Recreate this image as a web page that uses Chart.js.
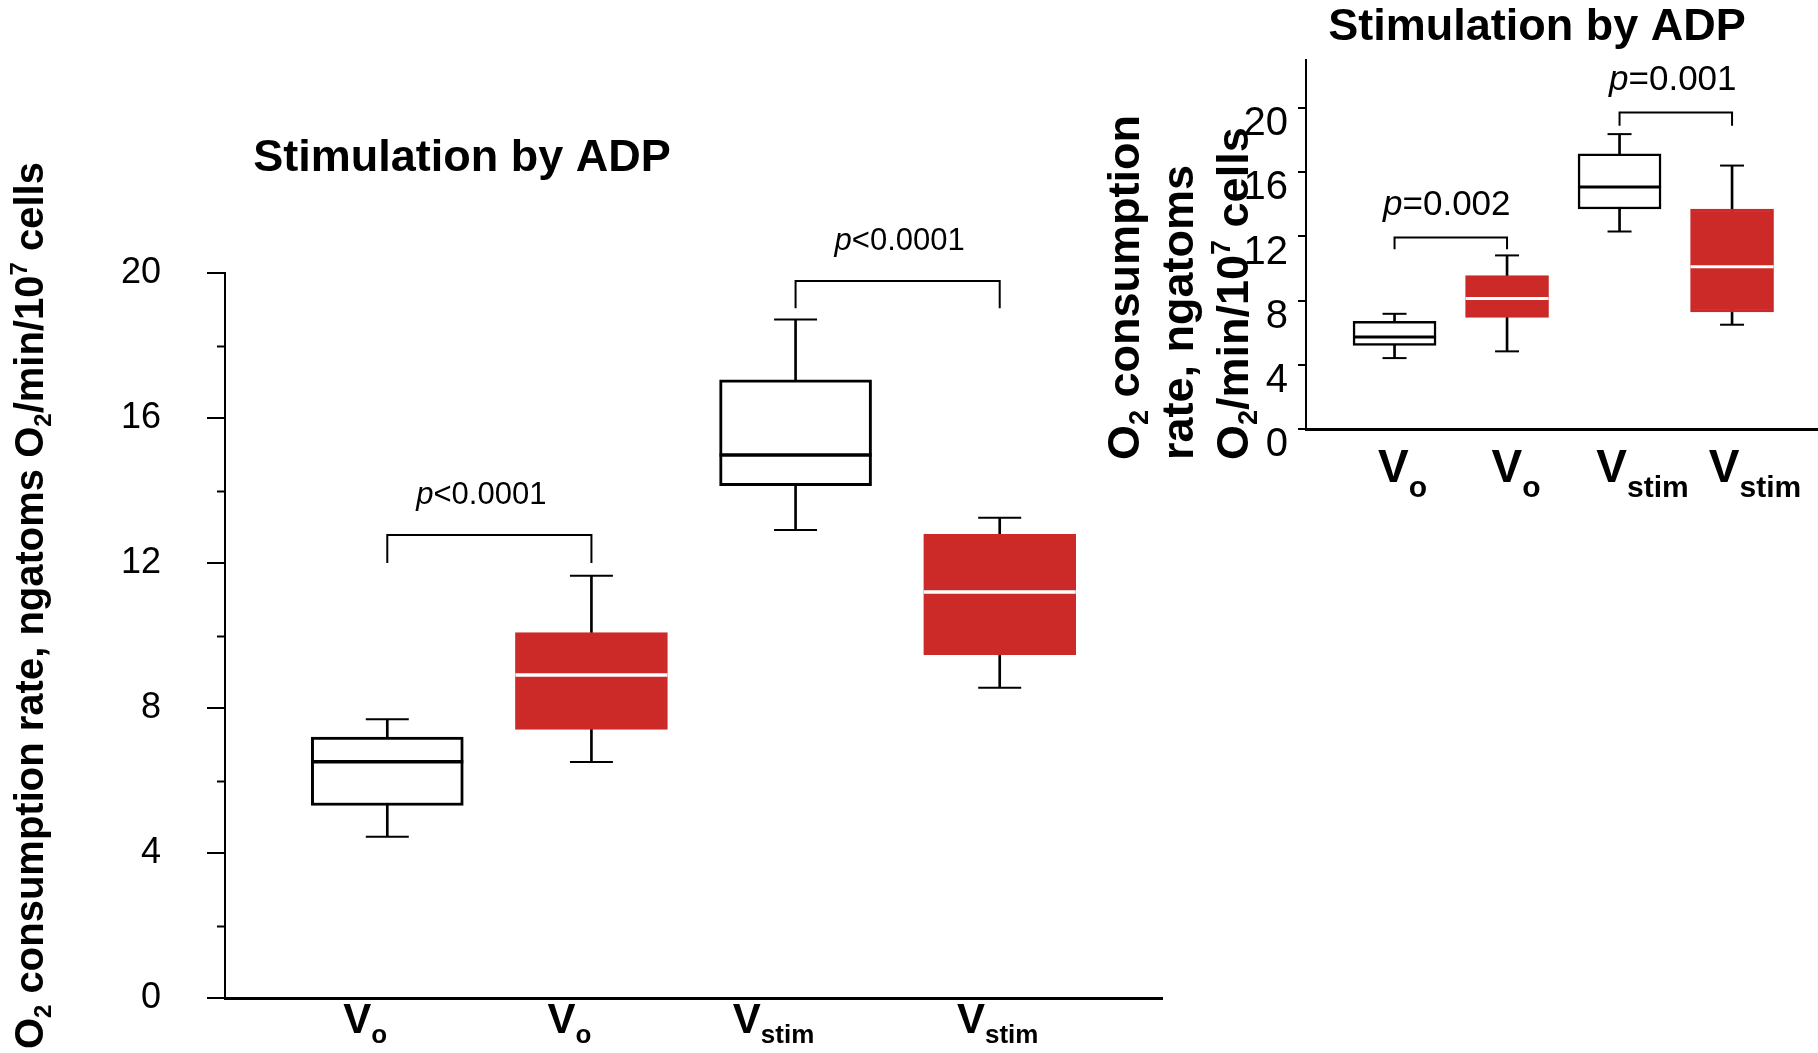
<!DOCTYPE html>
<html>
<head>
<meta charset="utf-8">
<title>Stimulation by ADP</title>
<script src="https://cdn.jsdelivr.net/npm/chart.js@4.4.0/dist/chart.umd.min.js"></script>
<style>
    html, body { margin: 0; padding: 0; background: #fff; }
    #wrap { position: relative; width: 1818px; height: 1053px; overflow: hidden; }
    #mainChart { position: absolute; left: 0; top: 0; }
    #insetChart { position: absolute; left: 1100px; top: 0; }
</style>
</head>
<body>
<div id="wrap">
    <canvas id="mainChart" width="1200" height="1053"></canvas>
    <canvas id="insetChart" width="718" height="520"></canvas>
</div>
<script>
// categories: V + subscript
const groupBase = ['V', 'V', 'V', 'V'];
const groupSub = ['o', 'o', 'stim', 'stim'];

// large panel, ngatoms O2/min/10^7 cells
const mainMin = [4.45, 6.51, 12.91, 8.56];
const mainQ1 = [5.31, 7.41, 14.13, 9.47];
const mainMedian = [6.52, 8.91, 14.98, 11.2];
const mainQ3 = [7.2, 10.08, 17.05, 12.79];
const mainMax = [7.69, 11.65, 18.72, 13.25];
const mainTicks = [0, 4, 8, 12, 16, 20];
const mainMinorTicks = [2, 6, 10, 14, 18];
const mainPFrom = [0, 2];
const mainPTo = [1, 3];
const mainPTop = [12.77, 19.78];
const mainPFoot = [12.0, 19.03];
const mainPText = ['<0.0001', '<0.0001'];

// small panel
const insetMin = [4.42, 4.84, 12.31, 6.5];
const insetQ1 = [5.21, 6.95, 13.71, 7.29];
const insetMedian = [5.73, 8.14, 15.08, 10.11];
const insetQ3 = [6.71, 9.57, 17.15, 13.71];
const insetMax = [7.18, 10.82, 18.38, 16.42];
const insetTicks = [0, 4, 8, 12, 16, 20];
const insetPFrom = [0, 2];
const insetPTo = [1, 3];
const insetPTop = [11.94, 19.73];
const insetPFoot = [11.21, 18.9];
const insetPText = ['=0.002', '=0.001'];

const FONT = '"Liberation Sans", Arial, Helvetica, sans-serif';
const RED = '#cc2929';
const boxFill = ['#ffffff', RED, '#ffffff', RED];
const boxEdge = ['#000000', RED, '#000000', RED];
const medianColor = ['#000000', '#ffffff', '#000000', '#ffffff'];

function bold(size) { return 'bold ' + size + 'px ' + FONT; }
function plain(size) { return size + 'px ' + FONT; }

// parts: [text, font, dy]
function drawRich(ctx, parts, x, y, align) {
    let w = 0;
    parts.forEach(function(p) { ctx.font = p[1]; w += ctx.measureText(p[0]).width; });
    let cx = align === 'center' ? x - w / 2 : x;
    ctx.textAlign = 'left';
    ctx.textBaseline = 'alphabetic';
    parts.forEach(function(p) {
        ctx.font = p[1];
        ctx.fillText(p[0], cx, y + (p[2] || 0));
        cx += ctx.measureText(p[0]).width;
    });
}

function decorPlugin(d, look) {
    return {
        id: 'decor',
        afterDraw: function(chart) {
            const ctx = chart.ctx;
            const xs = chart.scales.x;
            const ys = chart.scales.y;
            ctx.save();
            ctx.fillStyle = '#000';
            ctx.strokeStyle = '#000';

            drawRich(ctx, [['Stimulation by ADP', bold(look.titleSize), 0]], look.titleX, look.titleY, 'center');

            look.yTitle.forEach(function(parts, k) {
                ctx.save();
                ctx.translate(look.yTitleX[k], look.yTitleY);
                ctx.rotate(-Math.PI / 2);
                drawRich(ctx, parts, 0, 0, 'left');
                ctx.restore();
            });

            // minor ticks
            ctx.lineWidth = 2;
            d.minorTicks.forEach(function(v) {
                const y = Math.round(ys.getPixelForValue(v)) + 0.5;
                ctx.beginPath();
                ctx.moveTo(chart.chartArea.left - look.minorLen, y);
                ctx.lineTo(chart.chartArea.left, y);
                ctx.stroke();
            });

            // category labels with subscripts
            groupBase.forEach(function(b, i) {
                const cx = xs.getPixelForValue(i) + look.labelShift[i];
                drawRich(ctx, [[b, bold(look.labelSize), 0], [groupSub[i], bold(look.subSize), look.subDrop]],
                    cx, look.labelY, 'center');
            });

            // significance brackets
            ctx.lineWidth = 2;
            d.pFrom.forEach(function(f, k) {
                const x1 = xs.getPixelForValue(f);
                const x2 = xs.getPixelForValue(d.pTo[k]);
                const yt = ys.getPixelForValue(d.pTop[k]);
                const yf = ys.getPixelForValue(d.pFoot[k]);
                ctx.beginPath();
                ctx.moveTo(x1, yf);
                ctx.lineTo(x1, yt);
                ctx.lineTo(x2, yt);
                ctx.lineTo(x2, yf);
                ctx.stroke();
                drawRich(ctx, [['p', 'italic ' + plain(look.pSize), 0], [d.pText[k], plain(look.pSize), 0]],
                    (x1 + x2) / 2 + look.pShift[k], yt - look.pGap, 'center');
            });
            ctx.restore();
        }
    };
}

function boxChart(id, d, look) {
    const ctx = document.getElementById(id).getContext('2d');
    return new Chart(ctx, {
        type: 'bar',
        data: {
            datasets: [{
                // whiskers
                type: 'bar',
                data: d.min.map(function(v, i) { return { x: i, y: [v, d.max[i]] }; }),
                backgroundColor: '#000',
                borderWidth: 0,
                barThickness: 2,
                stack: 'box',
                order: 3
            }, {
                // boxes
                type: 'bar',
                data: d.q1.map(function(v, i) { return { x: i, y: [v, d.q3[i]] }; }),
                backgroundColor: boxFill,
                borderColor: boxEdge,
                borderWidth: look.boxBorder,
                borderSkipped: false,
                barThickness: look.boxWidth,
                stack: 'box',
                order: 2
            }, {
                // medians
                type: 'line',
                showLine: false,
                data: d.median.map(function(v, i) { return { x: i, y: v }; }),
                pointStyle: 'line',
                pointRadius: look.boxWidth / 2,
                pointBorderWidth: look.medianWidth,
                pointBorderColor: medianColor,
                order: 1
            }, {
                // whisker caps
                type: 'line',
                showLine: false,
                data: d.min.map(function(v, i) { return { x: i, y: v }; })
                    .concat(d.max.map(function(v, i) { return { x: i, y: v }; })),
                pointStyle: 'line',
                pointRadius: look.capHalf,
                pointBorderWidth: 2,
                pointBorderColor: '#000',
                order: 1
            }]
        },
        options: {
            responsive: false,
            maintainAspectRatio: false,
            devicePixelRatio: 1,
            animation: false,
            events: [],
            layout: {
                autoPadding: false,
                padding: { left: 0, top: look.top, right: look.right, bottom: 0 }
            },
            scales: {
                x: {
                    type: 'linear',
                    min: look.xMin,
                    max: look.xMax,
                    offset: false,
                    grid: { display: false },
                    ticks: { display: false },
                    border: { display: true, color: '#000', width: 3 },
                    afterFit: function(scale) { scale.height = look.xHeight; }
                },
                y: {
                    min: 0,
                    max: look.yMax,
                    stacked: false,
                    grid: {
                        display: true,
                        drawOnChartArea: false,
                        drawTicks: true,
                        tickLength: look.tickLen,
                        color: '#000',
                        lineWidth: 2
                    },
                    border: { display: true, color: '#000', width: 2 },
                    ticks: {
                        color: '#000',
                        font: { family: FONT, size: look.tickSize },
                        padding: look.tickPad,
                        labelOffset: look.tickShift
                    },
                    afterBuildTicks: function(scale) {
                        scale.ticks = d.ticks.map(function(v) { return { value: v }; });
                    },
                    afterFit: function(scale) {
                        scale.width = look.yWidth;
                        scale.paddingTop = 0;
                        scale.paddingBottom = 0;
                    }
                }
            },
            plugins: {
                legend: { display: false },
                tooltip: { enabled: false }
            }
        },
        plugins: [decorPlugin(d, look)]
    });
}

document.addEventListener('DOMContentLoaded', function() {
    boxChart('mainChart', {
        min: mainMin, q1: mainQ1, median: mainMedian, q3: mainQ3, max: mainMax,
        ticks: mainTicks, minorTicks: mainMinorTicks,
        pFrom: mainPFrom, pTo: mainPTo, pTop: mainPTop, pFoot: mainPFoot, pText: mainPText
    }, {
        top: 273, right: 38, xHeight: 55, yWidth: 225,
        xMin: -0.795, xMax: 3.795, yMax: 20,
        tickLen: 18, minorLen: 8, tickSize: 36, tickPad: 46, tickShift: 0,
        boxWidth: 152, boxBorder: 3, medianWidth: 3.5, capHalf: 21.5,
        titleSize: 45, titleX: 462, titleY: 171,
        yTitle: [[
            ['O', bold(40), 0], ['2', bold(24), 8],
            [' consumption rate, ngatoms O', bold(40), 0], ['2', bold(24), 8],
            ['/min/10', bold(40), 0], ['7', bold(24), -16], [' cells', bold(40), 0]
        ]],
        yTitleX: [43], yTitleY: 1049,
        labelSize: 42, subSize: 26, subDrop: 10, labelY: 1033,
        labelShift: [-22, -22, -22, -2],
        pSize: 31, pGap: 31, pShift: [-8, 2]
    });

    boxChart('insetChart', {
        min: insetMin, q1: insetQ1, median: insetMedian, q3: insetQ3, max: insetMax,
        ticks: insetTicks, minorTicks: [],
        pFrom: insetPFrom, pTo: insetPTo, pTop: insetPTop, pFoot: insetPFoot, pText: insetPText
    }, {
        top: 60, right: 0, xHeight: 91, yWidth: 206,
        xMin: -0.787, xMax: 3.764, yMax: 23,
        tickLen: 8, minorLen: 0, tickSize: 40, tickPad: 10, tickShift: 16,
        boxWidth: 83, boxBorder: 2.5, medianWidth: 3, capHalf: 12,
        titleSize: 45, titleX: 437, titleY: 40,
        yTitle: [
            [['O', bold(45), 0], ['2', bold(27), 9], [' consumption', bold(45), 0]],
            [['rate, ngatoms', bold(45), 0]],
            [['O', bold(45), 0], ['2', bold(27), 9], ['/min/10', bold(45), 0], ['7', bold(27), -18], [' cells', bold(45), 0]]
        ],
        yTitleX: [39, 93, 148], yTitleY: 460,
        labelSize: 46, subSize: 30, subDrop: 15, labelY: 482,
        labelShift: [8, 9, 23, 23],
        pSize: 35, pGap: 22, pShift: [-4, -3]
    });
});
</script>
</body>
</html>
